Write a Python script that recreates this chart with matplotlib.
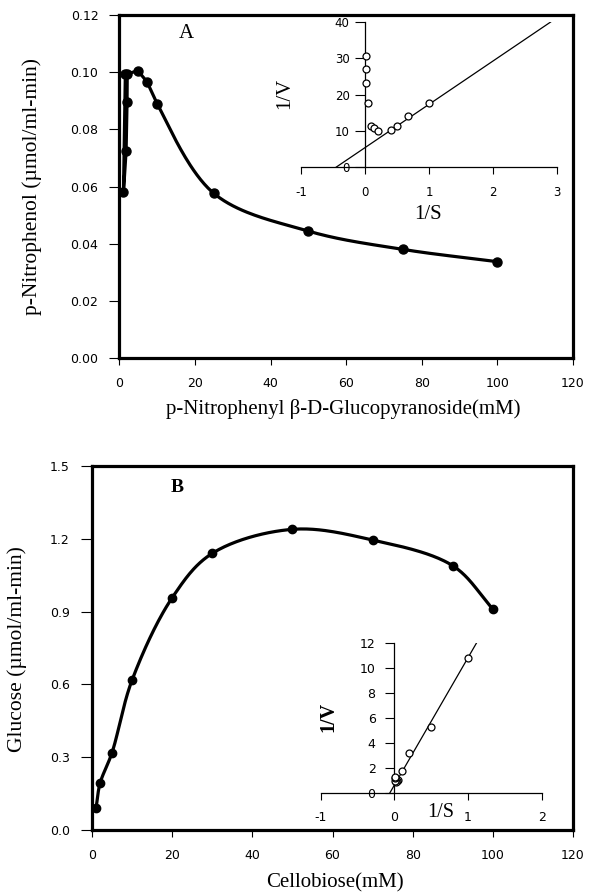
import numpy as np
import matplotlib
matplotlib.use("Agg")
import matplotlib.pyplot as plt
from matplotlib.ticker import FormatStrFormatter

plt.rcParams["axes.unicode_minus"] = False

# ---------------- data ----------------
# Panel A main curve (drawing order, as traced in the figure)
conc_A = [1.6, 1.1, 1.8, 2.05, 2.1, 4.9, 7.3, 10, 25, 50, 75, 100]
rate_A = [0.0994, 0.058, 0.0725, 0.0897, 0.0994, 0.1005, 0.0967, 0.089,
          0.0576, 0.0444, 0.038, 0.0337]
# Panel A inset (Lineweaver-Burk)
invS_A = [0.01, 0.02, 0.02, 0.04, 0.1, 0.14, 0.2, 0.4, 0.5, 0.67, 1.0]
invV_A = [30.6, 27.0, 23.1, 17.7, 11.4, 10.7, 10.1, 10.2, 11.3, 14.1, 17.6]
fitA_intercept, fitA_slope, fitA_xrange = 5.4, 11.9, (-0.454, 2.9)

# Panel B main curve
conc_B = [1, 2, 5, 10, 20, 30, 50, 70, 90, 100]
rate_B = [0.089, 0.192, 0.319, 0.618, 0.957, 1.140, 1.239, 1.195, 1.089, 0.911]
# Panel B inset
invS_B = [1.0, 0.5, 0.2, 0.1, 0.05, 0.033, 0.02, 0.014, 0.011, 0.01]
invV_B = [10.75, 5.23, 3.15, 1.70, 1.05, 0.92, 0.85, 0.95, 1.15, 1.22]
fitB_intercept, fitB_slope, fitB_xrange = 0.6, 10.2, (-0.0588, 1.14)

xticks_main = [0, 20, 40, 60, 80, 100, 120]
yticks_A = [0.00, 0.02, 0.04, 0.06, 0.08, 0.10, 0.12]
yticks_B = [0.0, 0.3, 0.6, 0.9, 1.2, 1.5]
xticks_insA = [-1, 0, 1, 2, 3]
yticks_insA = [0, 10, 20, 30, 40]
xticks_insB = [-1, 0, 1, 2]
yticks_insB = [0, 2, 4, 6, 8, 10, 12]

# ---------------- helpers ----------------
W, H = 601, 892
SANS = ["DejaVu Sans"]
SERIF = ["Liberation Serif", "DejaVu Serif"]


def catmull_rom(x, y, sx, sy, start=0, n=40):
    """Centripetal Catmull-Rom through the data (scaled to pixel-like units)."""
    P = np.column_stack([np.asarray(x, float) * sx, np.asarray(y, float) * sy])
    P = np.vstack([2 * P[0] - P[1], P, 2 * P[-1] - P[-2]])
    out = []
    for i in range(1 + start, len(P) - 2):
        p0, p1, p2, p3 = P[i - 1], P[i], P[i + 1], P[i + 2]
        t0 = 0.0
        t1 = t0 + max(np.linalg.norm(p1 - p0), 1e-9) ** 0.5
        t2 = t1 + max(np.linalg.norm(p2 - p1), 1e-9) ** 0.5
        t3 = t2 + max(np.linalg.norm(p3 - p2), 1e-9) ** 0.5
        t = np.linspace(t1, t2, n)[:, None]
        A1 = (t1 - t) / (t1 - t0) * p0 + (t - t0) / (t1 - t0) * p1
        A2 = (t2 - t) / (t2 - t1) * p1 + (t - t1) / (t2 - t1) * p2
        A3 = (t3 - t) / (t3 - t2) * p2 + (t - t2) / (t3 - t2) * p3
        B1 = (t2 - t) / (t2 - t0) * A1 + (t - t0) / (t2 - t0) * A2
        B2 = (t3 - t) / (t3 - t1) * A2 + (t - t1) / (t3 - t1) * A3
        C = (t2 - t) / (t2 - t1) * B1 + (t - t1) / (t2 - t1) * B2
        out.append(C)
    out = np.vstack(out)
    return out[:, 0] / sx, out[:, 1] / sy


def style_main(ax):
    for s in ax.spines.values():
        s.set_linewidth(2.3)
        s.set_color("black")
    ax.tick_params(axis="both", which="both", direction="out", top=False, right=False,
                   width=0.8, color="black")
    ax.tick_params(axis="y", length=7, pad=8)
    ax.tick_params(axis="x", length=5, pad=9)
    for lab in ax.get_xticklabels() + ax.get_yticklabels():
        lab.set_family(SANS)
        lab.set_fontsize(9)


def style_inset(ax):
    ax.patch.set_alpha(0)
    ax.spines["top"].set_visible(False)
    ax.spines["right"].set_visible(False)
    ax.spines["left"].set_position(("data", 0))
    ax.spines["bottom"].set_position(("data", 0))
    for s in ("left", "bottom"):
        ax.spines[s].set_linewidth(0.9)
    ax.tick_params(axis="both", direction="out", width=0.8, top=False, right=False)
    ax.tick_params(axis="y", length=7.5, pad=3.5)
    ax.tick_params(axis="x", length=5, pad=8.5)


fig = plt.figure(figsize=(W / 100, H / 100), dpi=100)
fig.patch.set_facecolor("white")

# ================= Panel A =================
axA = fig.add_axes([119.3 / W, 1 - 358 / H, (573 - 119.3) / W, (358 - 15) / H])
axA.set_xlim(0, 120)
axA.set_ylim(0, 0.12)
axA.set_xticks(xticks_main)
axA.set_yticks(yticks_A)
axA.yaxis.set_major_formatter(FormatStrFormatter("%.2f"))
style_main(axA)

sxA = (573 - 119.3) / 120
syA = (358 - 15) / 0.12
# straight segments through the low-concentration points, smooth beyond 10 mM
axA.plot(conc_A[:8], rate_A[:8], color="black", lw=2.3, solid_joinstyle="round",
         solid_capstyle="round", zorder=3)
xs, ys = catmull_rom(conc_A[6:], rate_A[6:], sxA, syA, start=1)
axA.plot(xs, ys, color="black", lw=2.3, solid_capstyle="round", zorder=3)
axA.plot(conc_A, rate_A, linestyle="none", marker="o", ms=6.5, mfc="black",
         mec="black", zorder=4)

axA.set_ylabel("p-Nitrophenol (\u00b5mol/ml-min)", family=SERIF, fontsize=15.5)
axA.yaxis.set_label_coords((32 - 119.3) / (573 - 119.3), 0.5)
axA.yaxis.label.set_verticalalignment("center")
axA.set_xlabel("p-Nitrophenyl \u03b2-D-Glucopyranoside(mM)", family=SERIF, fontsize=15)
axA.xaxis.set_label_coords((343 - 119.3) / (573 - 119.3), (358 - 409) / (358 - 15))
axA.xaxis.label.set_verticalalignment("center")
axA.text((186 - 119.3) / (573 - 119.3), (358 - 33) / (358 - 15), "A",
         transform=axA.transAxes, family=SERIF, fontsize=15, ha="center", va="center")

# ---- inset A ----
insA = fig.add_axes([301 / W, 1 - 167.3 / H, (557 - 301) / W, (167.3 - 21.7) / H])
insA.set_xlim(-1, 3)
insA.set_ylim(0, 40)
insA.set_xticks(xticks_insA)
insA.set_yticks(yticks_insA)
style_inset(insA)
for lab in insA.get_xticklabels() + insA.get_yticklabels():
    lab.set_family(SANS)
    lab.set_fontsize(8.5)
fx = np.array(fitA_xrange)
insA.plot(fx, fitA_intercept + fitA_slope * fx, color="black", lw=0.9, zorder=2)
insA.plot(invS_A, invV_A, linestyle="none", marker="o", ms=5, mfc="white",
          mec="black", mew=0.9, zorder=3, clip_on=False)
insA.text((285 - 301) / 256, 0.51, "1/V", transform=insA.transAxes, rotation=90,
          family=SERIF, fontsize=15, ha="center", va="center")
insA.text((428 - 301) / 256, (167.3 - 215) / 145.6, "1/S", transform=insA.transAxes,
          family=SERIF, fontsize=15, ha="center", va="center")

# ================= Panel B =================
axB = fig.add_axes([92 / W, 1 - 830 / H, (573 - 92) / W, (830 - 466) / H])
axB.set_xlim(0, 120)
axB.set_ylim(0, 1.5)
axB.set_xticks(xticks_main)
axB.set_yticks(yticks_B)
axB.yaxis.set_major_formatter(FormatStrFormatter("%.1f"))
style_main(axB)
axB.tick_params(axis="y", length=8, pad=8)

sxB = (573 - 92) / 120
syB = (830 - 466) / 1.5
xs, ys = catmull_rom(conc_B, rate_B, sxB, syB)
axB.plot(xs, ys, color="black", lw=2.3, solid_capstyle="round", zorder=3)
axB.plot(conc_B, rate_B, linestyle="none", marker="o", ms=6, mfc="black",
         mec="black", zorder=4)

axB.set_ylabel("Glucose (\u00b5mol/ml-min)", family=SERIF, fontsize=15.5)
axB.yaxis.set_label_coords((17 - 92) / (573 - 92), 0.497)
axB.yaxis.label.set_verticalalignment("center")
axB.set_xlabel("Cellobiose(mM)", family=SERIF, fontsize=15)
axB.xaxis.set_label_coords((335 - 92) / (573 - 92), (830 - 883) / (830 - 466))
axB.xaxis.label.set_verticalalignment("center")
axB.text((177 - 92) / (573 - 92), (830 - 487) / (830 - 466), "B",
         transform=axB.transAxes, family=SERIF, fontsize=14, fontweight="bold",
         ha="center", va="center")

# ---- inset B ----
insB = fig.add_axes([320.6 / W, 1 - 792.7 / H, (541.7 - 320.6) / W, 150 / H])
insB.set_xlim(-1, 2)
insB.set_ylim(0, 12)
insB.set_xticks(xticks_insB)
insB.set_yticks(yticks_insB)
style_inset(insB)
insB.tick_params(axis="y", length=6.5, pad=7)
for lab in insB.get_xticklabels() + insB.get_yticklabels():
    lab.set_family(SANS)
    lab.set_fontsize(9)
fx = np.array(fitB_xrange)
insB.plot(fx, fitB_intercept + fitB_slope * fx, color="black", lw=0.9, zorder=2)
insB.plot(invS_B, invV_B, linestyle="none", marker="o", ms=5, mfc="white",
          mec="black", mew=0.9, zorder=3, clip_on=False)
insB.text((328 - 320.6) / 221.1, 0.507, "1/V", transform=insB.transAxes, rotation=90,
          family=SERIF, fontsize=14.5, fontweight="bold", ha="center", va="center")
insB.text((441 - 320.6) / 221.1, (792.7 - 812.5) / 150, "1/S", transform=insB.transAxes,
          family=SERIF, fontsize=14.5, ha="center", va="center")

fig.savefig("out.png", dpi=100, facecolor="white")
